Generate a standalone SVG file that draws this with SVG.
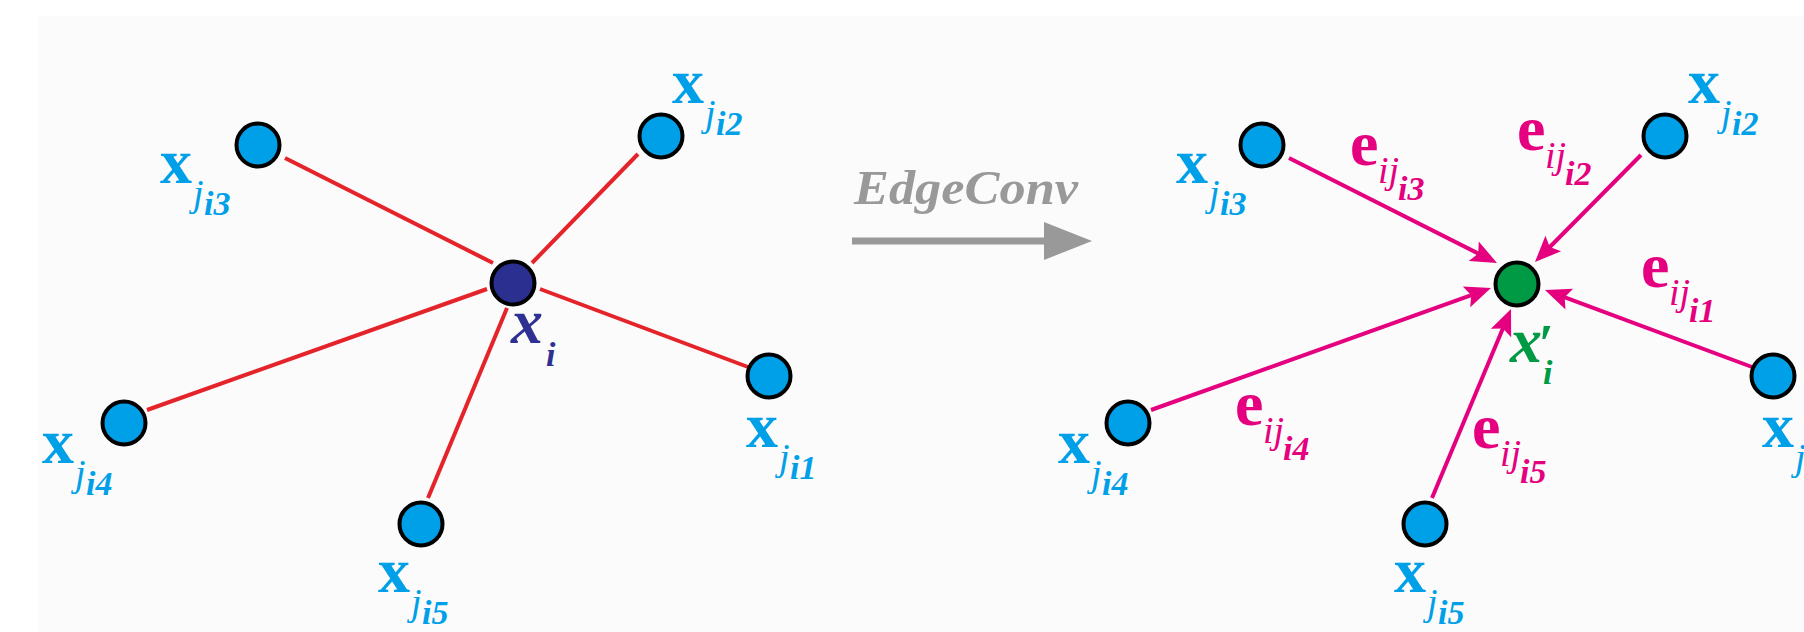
<svg xmlns="http://www.w3.org/2000/svg" width="1804" height="632" viewBox="0 0 1804 632">
<style>
.nd{stroke:#000;stroke-width:4}
.nb{fill:#00a0e9}
.f{font-family:"Liberation Serif","Times New Roman","DejaVu Serif",serif}
.cy{fill:#00a0e9}
.mg{fill:#e4007f}
.big{font-weight:bold;font-size:64px}
.bigi{font-weight:bold;font-style:italic;font-size:64px}
.j{font-style:italic;font-size:38px}
.s{font-style:italic;font-weight:bold;font-size:34px}
.red{stroke:#e5232a;stroke-width:4;fill:none}
.mag{stroke:#e4007f;stroke-width:4;fill:none;marker-end:url(#ah)}
</style>
<defs>
<marker id="ah" markerUnits="userSpaceOnUse" markerWidth="40" markerHeight="30" viewBox="-20 -15 40 30" refX="0" refY="0" orient="auto">
<path d="M12,0 L-14,-11 L-9,0 L-14,11 Z" fill="#e4007f"/>
</marker>
</defs>
<rect x="0" y="0" width="1804" height="632" fill="#ffffff"/>
<rect x="38" y="16" width="1766" height="616" fill="#fbfbfb"/>

<g id="connectors">
<line class="red" x1="285" y1="158" x2="493" y2="263"/>
<line class="red" x1="638" y1="154" x2="532" y2="263"/>
<line class="red" x1="748" y1="367" x2="540" y2="289"/>
<line class="red" x1="147" y1="410" x2="487" y2="289"/>
<line class="red" x1="428" y1="498" x2="507" y2="308"/>

<line class="mag" x1="1289" y1="158" x2="1486.3" y2="257.6"/>
<line class="mag" x1="1641" y1="155" x2="1543.4" y2="253.5"/>
<line class="mag" x1="1752" y1="367" x2="1556.2" y2="294.2"/>
<line class="mag" x1="1151" y1="410" x2="1479.7" y2="292.1"/>
<line class="mag" x1="1432" y1="498" x2="1506.4" y2="320.1"/>

<text class="f mg"><tspan class="big" x="1350" y="165">e</tspan><tspan class="j" x="1378" y="183">ij</tspan><tspan class="s" x="1398" y="200">i3</tspan></text>
<text class="f mg"><tspan class="big" x="1517" y="150">e</tspan><tspan class="j" x="1545" y="168">ij</tspan><tspan class="s" x="1565" y="185">i2</tspan></text>
<text class="f mg"><tspan class="big" x="1641" y="287">e</tspan><tspan class="j" x="1669" y="305">ij</tspan><tspan class="s" x="1689" y="322">i1</tspan></text>
<text class="f mg"><tspan class="big" x="1235" y="425">e</tspan><tspan class="j" x="1263" y="443">ij</tspan><tspan class="s" x="1283" y="460">i4</tspan></text>
<text class="f mg"><tspan class="big" x="1472" y="448">e</tspan><tspan class="j" x="1500" y="466">ij</tspan><tspan class="s" x="1520" y="483">i5</tspan></text>
</g>

<g id="edgeconv">
<text class="f" x="854" y="204" font-size="49" font-weight="bold" font-style="italic" fill="#999999" textLength="224" lengthAdjust="spacingAndGlyphs">EdgeConv</text>
<line x1="852" y1="241" x2="1050" y2="241" stroke="#999999" stroke-width="7"/>
<polygon points="1044,222 1092,241 1044,260" fill="#999999"/>
</g>

<g id="node-xi">
<circle class="nd" cx="513" cy="283" r="21.5" fill="#2b2f8f"/>
<text class="f" fill="#2e3192"><tspan class="bigi" x="511" y="343">x</tspan><tspan class="s" x="546" y="366">i</tspan></text>
</g>
<g id="node-xj3">
<circle class="nd nb" cx="258" cy="145" r="21.5"/>
<text class="f cy"><tspan class="big" x="160" y="183">x</tspan><tspan class="j" x="193" y="206">j</tspan><tspan class="s" x="204" y="215">i3</tspan></text>
</g>
<g id="node-xj2">
<circle class="nd nb" cx="661" cy="136" r="21.5"/>
<text class="f cy"><tspan class="big" x="672" y="103">x</tspan><tspan class="j" x="705" y="126">j</tspan><tspan class="s" x="716" y="135">i2</tspan></text>
</g>
<g id="node-xj1">
<circle class="nd nb" cx="769" cy="376" r="21.5"/>
<text class="f cy"><tspan class="big" x="746" y="447">x</tspan><tspan class="j" x="779" y="470">j</tspan><tspan class="s" x="790" y="479">i1</tspan></text>
</g>
<g id="node-xj4">
<circle class="nd nb" cx="124" cy="423" r="21.5"/>
<text class="f cy"><tspan class="big" x="42" y="463">x</tspan><tspan class="j" x="75" y="486">j</tspan><tspan class="s" x="86" y="495">i4</tspan></text>
</g>
<g id="node-xj5">
<circle class="nd nb" cx="421" cy="524" r="21.5"/>
<text class="f cy"><tspan class="big" x="378" y="592">x</tspan><tspan class="j" x="411" y="615">j</tspan><tspan class="s" x="422" y="624">i5</tspan></text>
</g>

<g id="node-xi-prime">
<circle class="nd" cx="1517" cy="284" r="21.5" fill="#009944"/>
<text class="f" fill="#009944"><tspan class="bigi" x="1510" y="362">x</tspan><tspan font-style="italic" font-weight="bold" font-size="54" x="1538" y="362">′</tspan><tspan class="s" x="1543" y="384">i</tspan></text>
</g>
<g id="node-r-xj3">
<circle class="nd nb" cx="1262" cy="145" r="21.5"/>
<text class="f cy"><tspan class="big" x="1176" y="183">x</tspan><tspan class="j" x="1209" y="206">j</tspan><tspan class="s" x="1220" y="215">i3</tspan></text>
</g>
<g id="node-r-xj2">
<circle class="nd nb" cx="1665" cy="136" r="21.5"/>
<text class="f cy"><tspan class="big" x="1688" y="103">x</tspan><tspan class="j" x="1721" y="126">j</tspan><tspan class="s" x="1732" y="135">i2</tspan></text>
</g>
<g id="node-r-xj1">
<circle class="nd nb" cx="1773" cy="376" r="21.5"/>
<text class="f cy"><tspan class="big" x="1762" y="447">x</tspan><tspan class="j" x="1795" y="470">j</tspan><tspan class="s" x="1806" y="479">i1</tspan></text>
</g>
<g id="node-r-xj4">
<circle class="nd nb" cx="1128" cy="423" r="21.5"/>
<text class="f cy"><tspan class="big" x="1058" y="463">x</tspan><tspan class="j" x="1091" y="486">j</tspan><tspan class="s" x="1102" y="495">i4</tspan></text>
</g>
<g id="node-r-xj5">
<circle class="nd nb" cx="1425" cy="524" r="21.5"/>
<text class="f cy"><tspan class="big" x="1394" y="592">x</tspan><tspan class="j" x="1427" y="615">j</tspan><tspan class="s" x="1438" y="624">i5</tspan></text>
</g>
</svg>
